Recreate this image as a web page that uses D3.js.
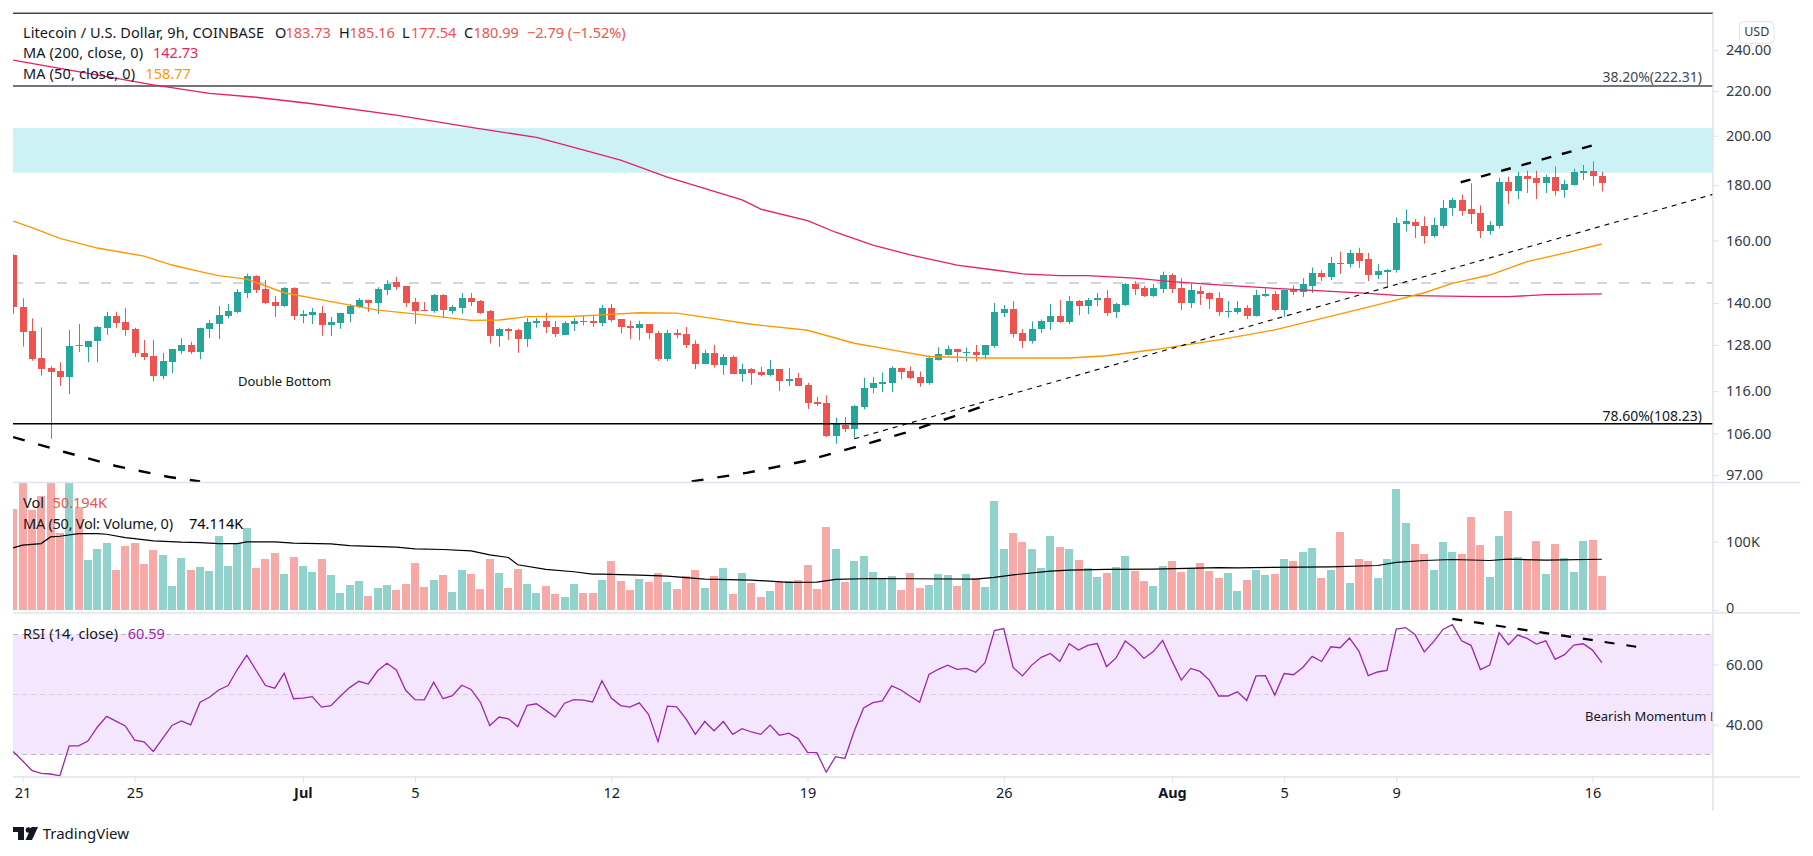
<!DOCTYPE html>
<html>
<head>
<meta charset="utf-8">
<script src="https://cdn.jsdelivr.net/npm/d3@7"></script>
<style>
  html, body { margin: 0; padding: 0; background: #fff; }
  text { font-family: "Noto Sans", sans-serif; }
</style>
</head>
<body>
<div id="chart"></div>
<script>
// bars run from index -1 (cut by the left edge) to 169, three 9h bars a day
var firstBar = -1;

var open = [155.1,138.9,131.9,124.5,121.8,121.1,119.6,127.9,127.5,129.1,132.8,136.2,134.5,132.5,125.9,125.1,119.8,123.4,126.4,127.9,
  126.1,132.5,133.9,136.2,137.3,143,148.2,144.2,140.3,139.1,144.5,136.2,136.4,137.1,133.5,134.2,136.8,138.8,140.9,140,
  144,146.4,145.1,140.3,137.9,137.6,142.4,137.6,138.5,141.5,140.6,137.6,130.5,132.5,132.2,129.6,134.2,134.7,133,130.8,
  133.9,134.7,134.7,134.2,138.5,135.3,133.3,132.7,133.9,131.3,124.2,131.3,131,128.2,122.9,125.8,122.6,124.7,120.4,121.6,
  120.9,120,121.6,118.5,119.3,117.6,113.4,113.1,105.4,108,107,112.1,116.7,117.9,118.1,121.8,121,119.5,118.1,124.1,
  125.4,126.8,126,126.2,125.4,127.6,137,138.2,131.2,129.2,132.4,134.4,136.2,134.4,140.6,139.1,140.9,141.5,137.4,139.4,
  145.8,144.5,142.1,144.2,148.5,144.5,140,143.6,143,141.5,137.4,137.3,138.5,136.2,142.1,142.7,137.9,144.3,143.4,145.2,
  149.1,147.9,152.6,152.2,155.8,153.9,148.6,149.5,150.1,165.7,166.4,165.1,161.4,165.1,171.3,174.4,170.9,169.6,163.1,165.1,
  181.2,177.8,183.7,182.8,180.9,183.2,178.2,180.1,184.9,185.6,183.73];

var high = [155.3,141.4,135.5,132.9,122.4,123.4,132.2,133.9,129.1,133.3,137.4,137.4,138.5,132.8,129.4,129.4,125.9,126.9,129.9,128.9,
  132.8,135,139.1,139.7,144.2,149.1,148.5,147,142.1,144.8,144.8,137.9,138.5,139.1,135.9,137.1,139.7,141.5,141,144.8,
  147,148,145.1,141.5,140.3,142.7,142.7,139.4,143,143,140.9,137.9,132.8,132.8,132.5,135.6,135.6,137.1,134.7,134.7,
  135.6,136.2,136.4,139.4,139.7,135.3,134.8,134.8,133.9,131.9,132.2,132.4,133,129.3,126.7,128,125.5,125.2,123,121.9,
  122.2,124,121.6,121.9,120.6,118.1,114.6,115,109.6,109.8,112.6,119.4,119.6,120.7,122.3,122,122.3,121,125.2,127.4,
  127.9,127,127.3,128,127.9,140,139.4,140.6,132.4,134.6,135.2,139.7,140.9,142.1,140.9,141.5,143,143.9,140,146.1,
  146.7,145.2,145.8,149.7,149.1,147.6,146,145.2,143.3,143.3,140.6,140.6,139.4,144,144.5,143.6,144,145.4,147.6,151,
  150.1,154.5,156.2,156.8,157.5,155.8,152.1,150.5,168,170.9,167.4,168.4,168,174.4,175.2,176.4,180.7,172.4,166.7,182.9,
  183.3,185.2,185.6,185.6,184,187.3,182,186.4,187.9,189.4,185.16];

var low = [136.8,127.6,123.8,119.9,104.8,117.3,115.3,126.1,123.4,123.4,130.8,132.8,130.5,124.8,124,118.5,119,120.6,125.6,125.6,
  124.2,129.9,129.6,135.5,137,141.5,143,139.7,135.9,138.8,135,134.1,133.9,130.5,130.5,132.5,134.4,138.5,137.4,136.8,
  142.4,144,138.8,133.9,137.6,137.1,135.6,136.8,136.8,139.1,136.8,128.4,127.5,129.4,125.9,127.5,132.8,131.3,130.2,130.8,
  131.9,133.5,133,133.3,134.4,131.3,129.6,129.3,129.6,123.7,123.7,129.8,127.2,121.6,122.9,122,120.1,120.4,118.4,117.6,
  119.7,119.7,116,117.3,117.3,111.7,112.4,105.2,103.7,106.3,105,111.6,115.5,115.8,115.8,119,119,117.1,117.6,123.8,
  125.2,123.4,123.6,123.6,124.1,127.2,135.9,130.1,127.2,128.4,131.3,132.2,134.2,133.8,136.4,136.7,139.1,136.2,135.6,139.1,
  142.4,141.8,141.8,143,143,137.9,138.5,139.4,138.2,136.2,135.7,136.7,135.3,136,141.8,137.6,135.9,142.4,141.8,143,
  146.7,147,149,151,150.9,146.7,147.3,144.9,149.4,163,160.8,158.9,161,164.1,168.6,168.6,165.7,160.8,161.9,164.1,
  172.9,174.7,177,174.7,177,176,175.2,179.8,182,179.7,177.54];

var close = [138.9,131.7,124.3,121.7,120.9,119.6,127.7,127.7,129.1,133,136.2,134.2,132.2,125.9,124.8,119.8,123.7,126.9,127.9,126.1,
  132.8,134.2,136.4,137.6,143.3,148.2,144,140,139.1,144.5,136.2,136.8,137.4,133.5,134.4,137.1,139.1,140.9,140,144.2,
  145.8,144.8,140,137.6,137.6,142.4,137.9,138.8,141.5,140.3,137.1,130.5,132.5,131.9,129.6,134.4,134.7,133,131,134.2,
  134.7,134.4,134.2,138.5,135,133,132.7,133.9,131.3,124.2,131.3,130.7,128,122.9,125.8,122.6,124.7,120.4,121.6,120.6,
  120,121.6,118.5,119,117.3,113.1,112.9,105.4,108.2,107,112.4,116.9,118.1,118.3,121.8,120.8,119.3,118.1,124.4,125.7,
  126.8,126,126.2,125.4,127.9,137.4,138.2,131,129.2,132.4,134.6,136.2,134.4,140.6,139.1,140.9,141.5,137,139.7,145.8,
  144.2,142.1,144.5,148.5,144.2,140,143.9,142.7,141.2,137.4,137.6,138.5,136.2,142.4,142.7,137.9,144,143.4,145.8,149.1,
  147.9,152.6,152.2,155.8,153.2,148.6,149.8,150.2,166,166.7,165,161.4,165.5,171.6,174.4,170.5,169.2,163.1,165.5,181.2,
  177.8,183.7,182.4,180.9,183.2,177.8,180.5,185.2,185.6,183.7,180.99];

// volume in thousands; the tallest ones are cut by the pane top
var volume = [147,200,145.5,167,210,112,230,150,72.8,88.8,97.5,58.2,93,97.5,67,87.3,80,35,75.7,58.2,
  62.6,56.7,107.7,64,97.5,119.3,61,74.2,83,52.4,77,64,55.3,74.2,51,24.7,36.4,42.2,20.4,32,
  36.4,29,37.8,68.4,33.5,43.7,51,26.2,58.2,52.4,30.6,74.2,53.8,32,59.7,37.8,24.7,35,23.3,19,
  37.8,24.7,24.7,43.7,71.3,42.2,29,45,40.7,53.8,40.7,30.6,49.5,58.2,32,49.5,61,23.3,53.8,39.3,
  19,27.6,40.7,42.2,43.7,65.5,30.6,120.8,88.8,40.7,71.3,78.6,55.3,45,49.5,29,53.8,32,36.4,52.4,
  51,35,52.4,46.6,33.5,158.6,88.8,112,99,88.8,61,107.7,91.7,88.8,72.8,61,48,53.8,62.6,78.6,
  56.7,42.2,35,64,71.3,55.3,61,68.4,56.7,46.6,53.8,27.6,43.7,58.2,51,52.4,74.2,71.3,84.4,90.2,
  46.6,58.2,113.5,39.3,74.2,71.3,46.6,74.2,176,126.6,96,81.5,58.2,99,84.4,81.5,135.3,94.6,48,107.7,
  144,77,74.2,100.4,52.4,96,75.7,55.3,100.4,101.9,50.194];

var rsi = [31,27.9,24.7,23.7,23.5,22.9,32.9,32.9,34.5,39.1,42.7,41.1,39.5,34.8,34.2,31,35.4,39.7,41.2,39.9,
  47.4,49.1,51.5,53,58.4,63.1,58,53,52.1,57.1,48.6,48.8,49.3,45.8,46.3,49.4,52.3,54.4,53.5,57.9,
  60.4,58.2,51.4,48.3,48.2,54.1,48.6,49.6,53.1,51.7,47.4,39.6,42.5,41.9,39.3,46.4,46.9,44.7,42.5,47.1,
  48.3,48.1,47.5,54.6,48.8,46.3,45.8,47.2,43.3,34.3,46.1,45.9,41.9,36.7,41,37.9,41,36.7,38.6,37.5,
  36.7,39.8,36.4,37.1,35.3,30.7,30.6,24.1,29.3,28.7,37.8,45.5,47.3,47.9,52.9,51.5,49.4,47.4,56.7,58.4,
  59.8,58.4,58.7,57.4,60.6,71.3,72,59,56.2,59.8,62.4,63.7,61,66.9,64.8,66.4,67,59.3,62.1,67.8,
  65.4,62,64.3,68,61.2,54.8,58.7,57.7,54.8,49.5,49.5,50.9,48,56.2,56.3,49.8,57,56.6,59,62.7,
  61,65.9,65.6,68.8,64.5,56.3,57.5,58,71.8,72.3,70,64.2,67.6,71.7,73.3,67.9,66.4,58.3,59.8,70.6,
  66.6,69.8,68.7,66.8,67.9,61.7,63.3,66.5,66.9,64.8,60.59];

// moving averages read at their bends: bar index and value
var ma200Bars = [-1,14,20,25,31,40,48,55,59,64,69,77,79,84,87,91,95,100,104,107,111,114,119,123,128,136,144,147,156,159,163,169];
var ma200 = [235,222.9,218.9,217.1,214.1,209,203.6,199.3,195.1,189.9,183.1,174.4,171,166.9,162.8,158.4,155.1,151.8,150.2,149,148.4,148.4,147.6,146.5,145.5,144.1,142.9,142.3,141.9,141.9,142.5,142.73];

var ma50Bars = [-1,1,4,8,13,16,19,21,24,28,33,38,42,48,51,54,59,62,66,70,74,78,84,89,93,97,103,112,116,121,128,134,143,146,150,153,157,161,165,169];
var ma50 = [166.7,164.4,160.7,157.4,154.7,151.8,149.7,148.4,147.3,143.1,140.4,137.9,136.8,134.9,135,136,136.1,136.5,137.1,137,135.4,133.8,132.1,128.5,126.7,124.9,124.5,124.5,125.1,126.7,129.4,132.2,138.1,140.2,143.1,146,148.6,152.9,155.7,158.77];

var volMaBars = [-1,0,2,3,4,6,8,9,11,12,14,17,19,21,23,24,27,29,33,35,40,42,45,48,50,52,53,56,59,61,62,66,69,73,78,82,85,87,91,95,102,104,106,110,112,116,121,128,130,140,145,147,150,153,157,159,163,169];
var volMa = [90.7,94.6,97,106.7,107.7,111.6,111.6,110.6,105.7,104.3,100.9,99,98.5,97,97,99.4,99.4,97.5,96.5,94,91.7,89.2,88.3,86.3,80.5,76.6,66,59.2,55.8,52.4,52.4,51,49.5,45,43.7,40.3,40.7,44.6,46,45.6,45,47.5,51.4,56.7,58.2,59.2,59.7,62,61.6,63,65,69.4,72.3,73.7,72.3,74.2,72.8,74.114];

// levels and drawings on the price pane
var fibTop = 259.7;
var fib382 = 222.31;
var fib786 = 108.23;
var zoneTop = 203.3;
var zoneBottom = 184.8;
var dashedLevel = 146.1;

var trendBars = [89,181];
var trendPrices = [104.8,176.6];
var wedgeBars = [153.9,168];
var wedgePrices = [181.1,195.9];
var arcLeftBars = [-1,4.5,10,15.7,19];
var arcLeftPrices = [105.2,101.9,98.9,96.6,95.7];
var arcRightBars = [71.6,77.6,83.6,89,94.5,99.6,103];
var arcRightPrices = [95.7,97.5,99.9,102.9,106.2,109.9,112.5];
var rsiDivBars = [153,172.7];
var rsiDivValues = [75.2,65.9];

// axis labels
var dateBars = [0,12,30,42,63,84,105,123,135,147,168];
var dateLabels = ["21","25","Jul","5","12","19","26","Aug","5","9","16"];
var priceTicks = [97,106,116,128,140,160,180,200,220,240];
var volumeTicks = [0,100];
var rsiTicks = [40,60];

var upColor = "#26a69a", downColor = "#ef5350";
var textColor = "#131722";
var fontSize = 14.5;

// set the dimensions of the page and of each pane
var width = 1813, height = 856;
var left = 13, right = 1713, axisEnd = 1800;
var priceTop = 13.5, priceBottom = 482.5;
var volumeTop = 482.5, volumeBottom = 613;
var rsiTop = 613, rsiBottom = 777;

var svg = d3.select("#chart")
  .append("svg")
    .attr("width", width)
    .attr("height", height)
    .style("display", "block");

var x = d3.scaleLinear().domain([0, 168]).range([22.5, 1592.5]);
var y = d3.scaleLog().domain([97, 240]).range([475.1, 50.2]);
var yVol = d3.scaleLinear().domain([0, 100]).range([610, 541.5]);
var yRsi = d3.scaleLinear().domain([30, 70]).range([754.5, 634.5]);

var bars = d3.range(open.length).map(function(i) {
  return {
    bar: firstBar + i,
    o: open[i], h: high[i], l: low[i], c: close[i],
    vol: volume[i], rsi: rsi[i],
    color: close[i] >= open[i] ? upColor : downColor
  };
});

var defs = svg.append("defs");
function addClip(id, top, bottom) {
  defs.append("clipPath").attr("id", id)
    .append("rect")
      .attr("x", left).attr("y", top)
      .attr("width", right - left).attr("height", bottom - top);
}
addClip("clip-price", priceTop - 2, priceBottom);
addClip("clip-volume", volumeTop, volumeBottom);
addClip("clip-rsi", rsiTop, rsiBottom);

var pricePane = svg.append("g").attr("clip-path", "url(#clip-price)");
var volumePane = svg.append("g").attr("clip-path", "url(#clip-volume)");
var rsiPane = svg.append("g").attr("clip-path", "url(#clip-rsi)");

function hLine(pane, yPos, color, widthPx, dash) {
  pane.append("line")
    .attr("x1", left).attr("x2", right)
    .attr("y1", yPos).attr("y2", yPos)
    .attr("stroke", color)
    .attr("stroke-width", widthPx)
    .attr("stroke-dasharray", dash || null);
}

function pathFrom(barList, valueList, scale) {
  var line = d3.line()
    .x(function(d) { return x(d); })
    .y(function(d, i) { return scale(valueList[i]); });
  return line(barList);
}

// candles
hLine(pricePane, y(dashedLevel), "#d1d4dc", 2, "10,12");

pricePane.selectAll(".wick").data(bars).enter().append("line")
  .attr("class", "wick")
  .attr("x1", function(d) { return Math.round(x(d.bar)) + 0.5; })
  .attr("x2", function(d) { return Math.round(x(d.bar)) + 0.5; })
  .attr("y1", function(d) { return y(d.h); })
  .attr("y2", function(d) { return y(d.l); })
  .attr("stroke", function(d) { return d.color; });

pricePane.selectAll(".body").data(bars).enter().append("rect")
  .attr("class", "body")
  .attr("x", function(d) { return Math.round(x(d.bar)) - 3; })
  .attr("width", 7)
  .attr("y", function(d) { return y(Math.max(d.o, d.c)); })
  .attr("height", function(d) { return Math.max(1, Math.abs(y(d.o) - y(d.c))); })
  .attr("fill", function(d) { return d.color; })
  .attr("shape-rendering", "crispEdges");

// resistance zone sits over the candles
pricePane.append("rect")
  .attr("x", left).attr("width", right - left)
  .attr("y", y(zoneTop))
  .attr("height", y(zoneBottom) - y(zoneTop))
  .attr("fill", "#00bcd4")
  .attr("fill-opacity", 0.2);

hLine(pricePane, y(fibTop), "#434651", 1.5);
hLine(pricePane, y(fib382), "#434651", 1.5);
hLine(pricePane, y(fib786), "#000", 1.5);

function priceLine(barList, valueList, color, widthPx, dash) {
  pricePane.append("path")
    .attr("d", pathFrom(barList, valueList, y))
    .attr("fill", "none")
    .attr("stroke", color)
    .attr("stroke-width", widthPx)
    .attr("stroke-dasharray", dash || null);
}

priceLine(ma200Bars, ma200, "#e91e63", 1.3);
priceLine(ma50Bars, ma50, "#ff9800", 1.4);
priceLine(trendBars, trendPrices, "#000", 1.1, "5,5");
priceLine(wedgeBars, wedgePrices, "#000", 2.4, "10,11");
priceLine(arcLeftBars, arcLeftPrices, "#000", 2.4, "12,14");
priceLine(arcRightBars, arcRightPrices, "#000", 2.4, "12,14");

// volume pane
volumePane.selectAll("rect").data(bars).enter().append("rect")
  .attr("x", function(d) { return Math.round(x(d.bar)) - 4; })
  .attr("width", 8)
  .attr("y", function(d) { return yVol(d.vol); })
  .attr("height", function(d) { return yVol(0) - yVol(d.vol); })
  .attr("fill", function(d) { return d.color; })
  .attr("fill-opacity", 0.5)
  .attr("shape-rendering", "crispEdges");

volumePane.append("path")
  .attr("d", pathFrom(volMaBars, volMa, yVol))
  .attr("fill", "none")
  .attr("stroke", "#000")
  .attr("stroke-width", 1.2);

// rsi pane
rsiPane.append("rect")
  .attr("x", left).attr("width", right - left)
  .attr("y", yRsi(70))
  .attr("height", yRsi(30) - yRsi(70))
  .attr("fill", "#f4e6fd");

hLine(rsiPane, yRsi(70), "#bcb6c0", 1, "5,4");
hLine(rsiPane, yRsi(50), "#d9d2de", 1, "5,4");
hLine(rsiPane, yRsi(30), "#bcb6c0", 1, "5,4");

rsiPane.append("path")
  .datum(bars)
  .attr("d", d3.line()
    .x(function(d) { return x(d.bar); })
    .y(function(d) { return yRsi(d.rsi); }))
  .attr("fill", "none")
  .attr("stroke", "#9c27b0")
  .attr("stroke-width", 1.3);

rsiPane.append("path")
  .attr("d", pathFrom(rsiDivBars, rsiDivValues, yRsi))
  .attr("fill", "none")
  .attr("stroke", "#000")
  .attr("stroke-width", 2.2)
  .attr("stroke-dasharray", "10,12");

// the note is cut by the price scale, only this much of it shows
rsiPane.append("text")
  .attr("x", 1585).attr("y", 716).attr("dy", "0.35em")
  .attr("fill", textColor)
  .style("font-size", "13px")
  .text("Bearish Momentum D");

// pane borders
var borderColor = "#e0e3eb";
[volumeTop, volumeBottom, rsiBottom].forEach(function(yPos) {
  svg.append("line")
    .attr("x1", left).attr("x2", axisEnd)
    .attr("y1", yPos).attr("y2", yPos)
    .attr("stroke", borderColor)
    .attr("stroke-width", 1.5);
});
svg.append("line")
  .attr("x1", right).attr("x2", right)
  .attr("y1", priceTop).attr("y2", 811)
  .attr("stroke", borderColor)
  .attr("stroke-width", 1.5);

// axes
function styleAxis(g) {
  g.select(".domain").remove();
  g.selectAll("line").attr("stroke", borderColor);
  g.selectAll("text")
    .attr("fill", "#363a45")
    .style("font-size", fontSize + "px")
    .style("font-family", '"Noto Sans", sans-serif');
}

svg.append("g")
  .attr("transform", "translate(" + right + ",0)")
  .call(d3.axisRight(y).tickValues(priceTicks).tickFormat(d3.format(".2f")).tickSize(6).tickPadding(7))
  .call(styleAxis);

var volAxis = svg.append("g")
  .attr("transform", "translate(" + right + ",0)")
  .call(d3.axisRight(yVol).tickValues(volumeTicks).tickFormat(function(d) { return d ? d + "K" : "0"; }).tickSize(6).tickPadding(7))
  .call(styleAxis);
// the zero label is nudged up off the pane border
volAxis.selectAll("text").attr("y", function(d) { return d === 0 ? -2 : 0; });

svg.append("g")
  .attr("transform", "translate(" + right + ",0)")
  .call(d3.axisRight(yRsi).tickValues(rsiTicks).tickFormat(d3.format(".2f")).tickSize(6).tickPadding(7))
  .call(styleAxis);

var xAxis = svg.append("g")
  .attr("transform", "translate(0," + rsiBottom + ")")
  .call(d3.axisBottom(x).tickValues(dateBars)
    .tickFormat(function(d, i) { return dateLabels[i]; }).tickSize(6).tickPadding(5))
  .call(styleAxis);
xAxis.selectAll("text")
  .style("font-weight", function(d, i) { return isNaN(+dateLabels[i]) ? "700" : "400"; })
  .attr("fill", textColor);

// legend text
function label(txt, xPos, yPos, color, size, anchor, fitWidth) {
  var t = svg.append("text")
    .attr("x", xPos).attr("y", yPos)
    .attr("dy", "0.35em")
    .attr("fill", color || textColor)
    .attr("text-anchor", anchor || "start")
    .style("font-size", (size || fontSize) + "px")
    .text(txt);
  if (fitWidth) t.attr("textLength", fitWidth).attr("lengthAdjust", "spacing");
  return t;
}

label("Litecoin / U.S. Dollar, 9h, COINBASE", 23, 32.7, textColor, fontSize, "start", 241);
label("O", 275, 32.7);
label("183.73", 285.5, 32.7, downColor);
label("H", 339, 32.7);
label("185.16", 349.5, 32.7, downColor);
label("L", 402, 32.7);
label("177.54", 411, 32.7, downColor);
label("C", 464, 32.7);
label("180.99", 473.5, 32.7, downColor);
label("\u22122.79 (\u22121.52%)", 527, 32.7, downColor);

label("MA (200, close, 0)", 23, 53.3, textColor, fontSize, "start", 120);
label("142.73", 153, 53.3, "#e91e63");
label("MA (50, close, 0)", 23, 74.3, textColor, fontSize, "start", 112);
label("158.77", 145.5, 74.3, "#ff9800");

label("38.20%(222.31)", 1702, 77, "#434651", 14, "end");
label("78.60%(108.23)", 1702, 415.7, textColor, 14, "end");
label("Double Bottom", 284.6, 381.3, textColor, 13, "middle");

label("Vol", 23, 502.7);
label("50.194K", 52.6, 502.7, downColor);
label("MA (50, Vol: Volume, 0)", 23, 524, textColor, fontSize, "start", 150);
label("74.114K", 189, 524, "#000");

label("RSI (14, close)", 23, 634, textColor, fontSize, "start", 95);
label("60.59", 127.7, 634, "#9c27b0");

// currency box
svg.append("rect")
  .attr("x", 1739.5).attr("y", 21.7)
  .attr("width", 34.5).attr("height", 21.6)
  .attr("rx", 4)
  .attr("fill", "#fff")
  .attr("stroke", borderColor);
label("USD", 1756.7, 32, "#363a45", 12.5, "middle");

// tradingview mark and name
var logo = svg.append("g").attr("transform", "translate(13,827)").attr("fill", "#131722");
logo.append("path").attr("d", "M0 0H11V13H5V5H0Z");
logo.append("circle").attr("cx", 15.5).attr("cy", 3).attr("r", 2.8);
logo.append("path").attr("d", "M18.5 0H25L19 13H12.5Z");
label("TradingView", 42.7, 834, textColor, 15);
</script>
</body>
</html>
